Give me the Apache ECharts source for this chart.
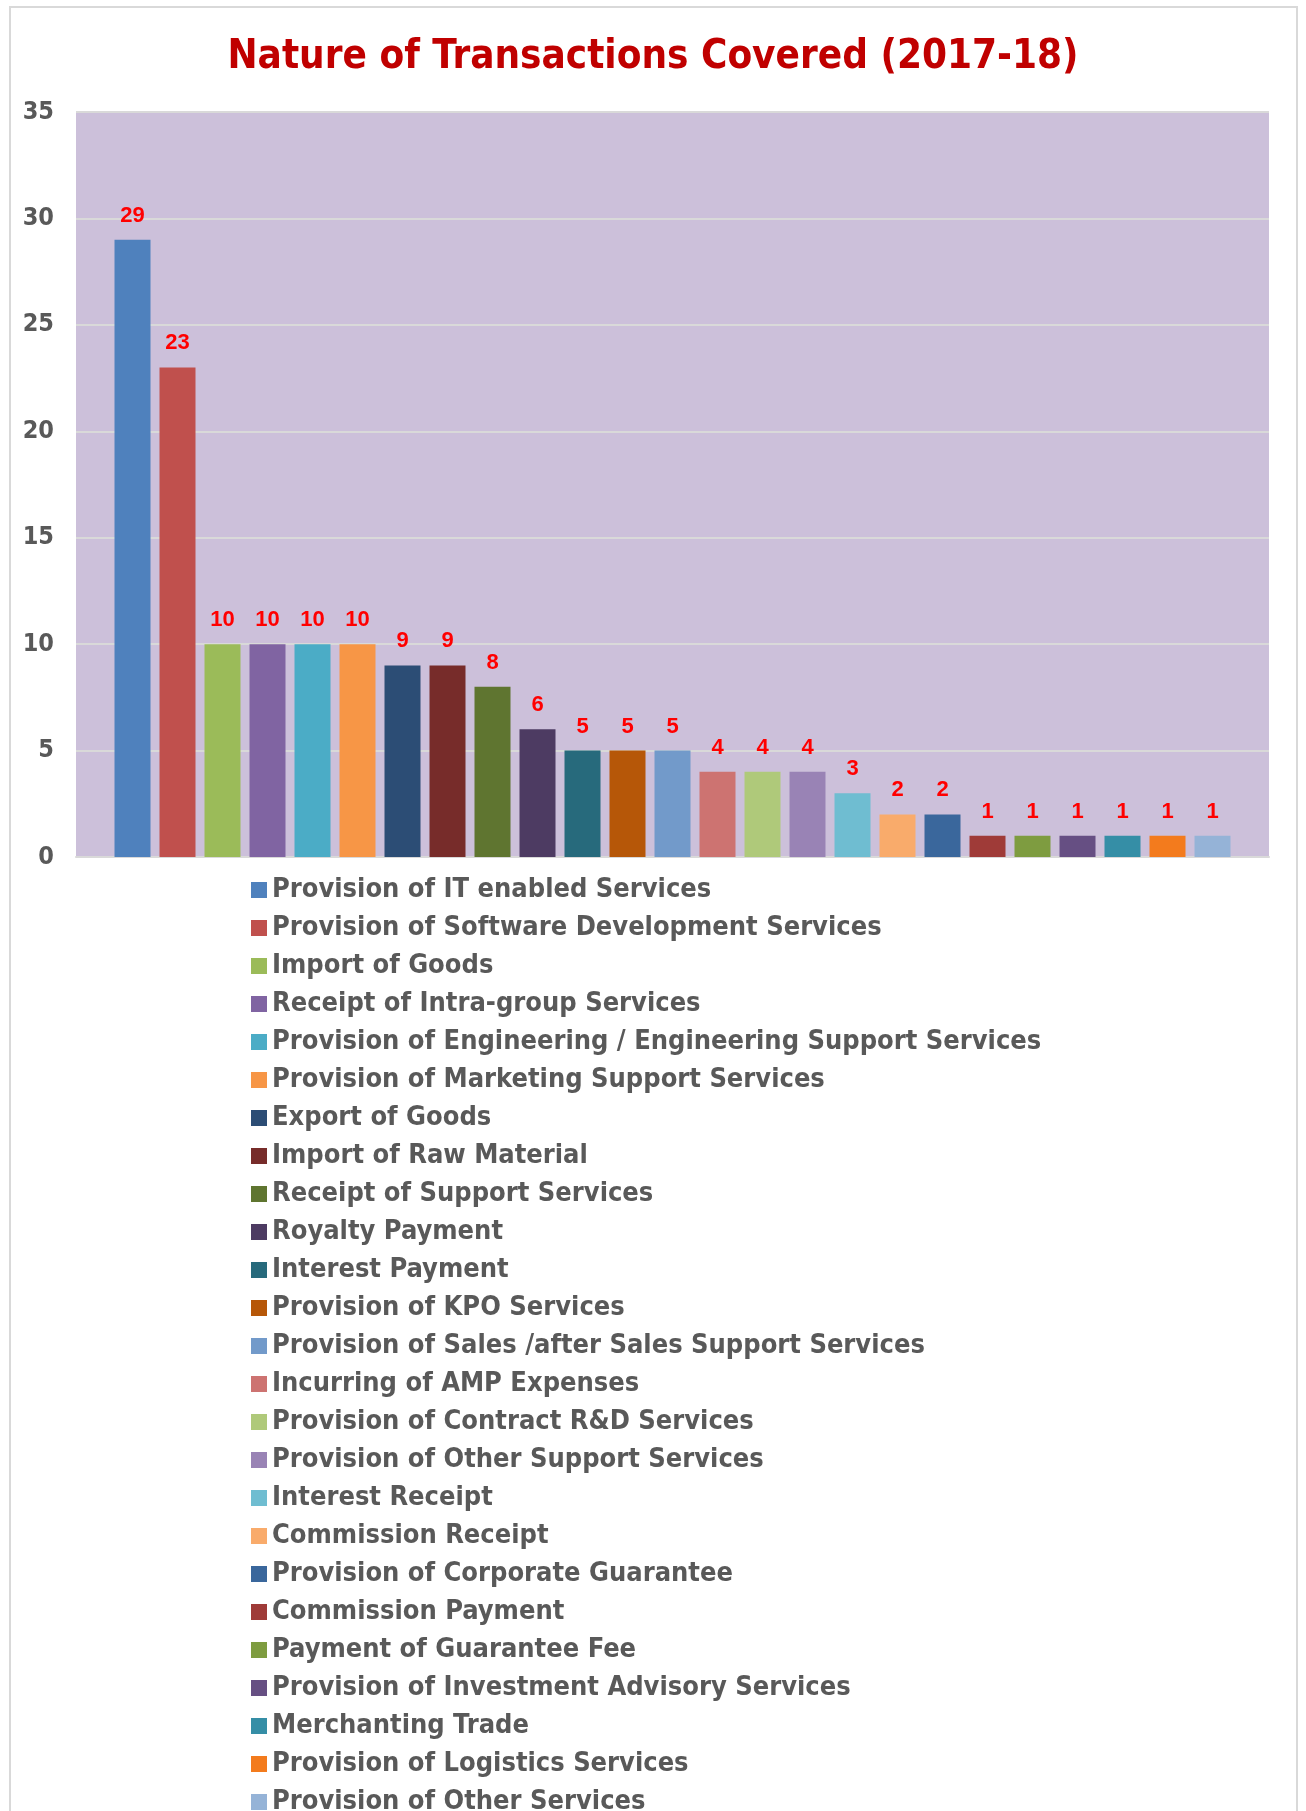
<!DOCTYPE html>
<html>
<head>
<meta charset="utf-8">
<script src="https://cdn.jsdelivr.net/npm/echarts@6/dist/echarts.min.js"></script>
<style>
html,body{margin:0;padding:0;background:#fff;overflow:hidden;}
#chart{width:1306px;height:1811px;}
</style>
</head>
<body>
<div id="chart"></div>
<script>
var transactionTypes = [
  "Provision of IT enabled Services",
  "Provision of Software Development Services",
  "Import of Goods",
  "Receipt of Intra-group Services",
  "Provision of Engineering / Engineering Support Services",
  "Provision of Marketing Support Services",
  "Export of Goods",
  "Import of Raw Material",
  "Receipt of Support Services",
  "Royalty Payment",
  "Interest Payment",
  "Provision of KPO Services",
  "Provision of Sales /after Sales Support Services",
  "Incurring of AMP Expenses",
  "Provision of Contract R&D Services",
  "Provision of Other Support Services",
  "Interest Receipt",
  "Commission Receipt",
  "Provision of Corporate Guarantee",
  "Commission Payment",
  "Payment of Guarantee Fee",
  "Provision of Investment Advisory Services",
  "Merchanting Trade",
  "Provision of Logistics Services",
  "Provision of Other Services"
];
var counts = [29, 23, 10, 10, 10, 10, 9, 9, 8, 6, 5, 5, 5, 4, 4, 4, 3, 2, 2, 1, 1, 1, 1, 1, 1];
var yTicks = [0, 5, 10, 15, 20, 25, 30, 35];
var palette = [
  "#4F81BD", "#C0504D", "#9BBB59", "#8064A2", "#4BACC6", "#F79646",
  "#2C4D75", "#772C2A", "#5F7530", "#4D3B62", "#276A7C", "#B65708",
  "#729ACA", "#CD7371", "#AFC97A", "#9983B5", "#6FBDD1", "#F9AB6B",
  "#3A679C", "#9F3B38", "#7E9C40", "#664F83", "#358EA6", "#F37B1D", "#95B3D7"
];

var narrow = "'Liberation Sans Narrow', 'DejaVu Sans Condensed', 'Liberation Sans', sans-serif";

var chart = echarts.init(document.getElementById('chart'), null, {renderer: 'canvas'});

var series = transactionTypes.map(function (name, i) {
  return {
    name: name,
    type: 'bar',
    data: [counts[i]],
    barWidth: 36,
    barGap: '25%',
    itemStyle: {color: palette[i]},
    label: {
      show: true,
      position: 'top',
      distance: 13,
      color: '#FF0000',
      fontWeight: 'bold',
      fontSize: 22,
      fontFamily: "'Liberation Sans', Arial, sans-serif"
    }
  };
});

chart.setOption({
  animation: false,
  backgroundColor: '#ffffff',
  title: {
    text: 'Nature of Transactions Covered (2017-18)',
    left: 'center',
    top: 33,
    textStyle: {
      color: '#C00000',
      fontSize: 40,
      fontWeight: 'bold',
      fontFamily: narrow
    }
  },
  graphic: [{
    type: 'rect',
    shape: {x: 10, y: 7, width: 1287, height: 1820},
    style: {fill: 'none', stroke: '#D9D9D9', lineWidth: 2},
    silent: true,
    z: -1
  }],
  grid: {
    left: 76,
    right: 37,
    top: 112,
    height: 745,
    show: true,
    backgroundColor: '#CCC0DA',
    borderWidth: 0
  },
  xAxis: {
    type: 'category',
    data: [''],
    axisTick: {show: false},
    axisLabel: {show: false},
    axisLine: {show: true, lineStyle: {color: '#D9D9D9', width: 2}}
  },
  yAxis: {
    type: 'value',
    min: yTicks[0],
    max: yTicks[yTicks.length - 1],
    interval: yTicks[1] - yTicks[0],
    axisLine: {show: false},
    axisTick: {show: false},
    axisLabel: {
      color: '#595959',
      fontSize: 25,
      fontWeight: 'bold',
      fontFamily: narrow,
      margin: 22
    },
    splitLine: {show: true, lineStyle: {color: '#D9D9D9', width: 2}}
  },
  legend: {
    orient: 'vertical',
    left: 246,
    top: 866,
    height: 1100,
    itemWidth: 16,
    itemHeight: 16,
    itemGap: 0,
    icon: 'rect',
    selectedMode: false,
    data: transactionTypes,
    textStyle: {
      color: '#595959',
      fontSize: 27,
      lineHeight: 38,
      fontWeight: 'bold',
      fontFamily: narrow
    }
  },
  series: series
});
</script>
</body>
</html>
